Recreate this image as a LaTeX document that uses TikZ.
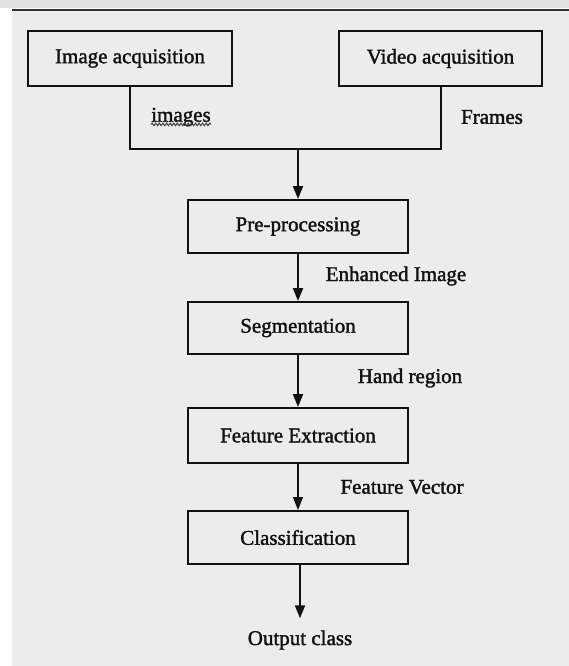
\documentclass[tikz,border=0pt]{standalone}
\usepackage{fontspec}
\setmainfont[FakeBold=1.6]{Liberation Serif}
\usetikzlibrary{arrows.meta,decorations.pathmorphing}
\definecolor{bgc}{HTML}{ECECEC}
\definecolor{topc}{HTML}{E2E2E2}
\definecolor{inkc}{HTML}{111111}
\begin{document}
\begin{tikzpicture}[x=1pt,y=-1pt,
  box/.style={draw=inkc,line width=2pt,minimum width=#1,inner sep=0pt,font=\fontsize{21}{24}\selectfont,text=inkc},
  box/.default=220pt,
  lbl/.style={inner sep=0pt,font=\fontsize{21}{24}\selectfont,text=inkc},
  arr/.style={draw=inkc,line width=2pt,-{Triangle[width=10pt,length=13pt]}},
  thinarr/.style={draw=inkc,line width=1.2pt,-{Triangle[width=10pt,length=13pt]}},
  link/.style={draw=inkc,line width=2pt}]
\useasboundingbox (0,0) rectangle (569,666);
\fill[white] (0,0) rectangle (569,666);
\fill[topc] (0,0) rectangle (569,8);
\fill[bgc] (12,10) rectangle (569,666);
\draw[draw=black!80,line width=1.2pt] (12,10) -- (569,10);
% boxes
\node[box=204pt,minimum height=55pt] (img) at (130,58.5) {Image acquisition};
\node[box=203pt,minimum height=55pt] (vid) at (440.5,58.5) {Video acquisition};
\node[box,minimum height=53pt] (pre) at (298,226.5) {Pre-processing};
\node[box,minimum height=52pt] (seg) at (298,328) {Segmentation};
\node[box,minimum height=55pt] (fe) at (298,435.5) {Feature Extraction};
\node[box,minimum height=53pt] (cls) at (298,537.5) {Classification};
\node[lbl] (out) at (300,640) {Output class};
% labels
\node[lbl] (limg) at (181,117) {images};
\node[lbl] (lfr) at (492,117) {Frames};
\node[lbl] (lenh) at (396,276) {Enhanced Image};
\node[lbl] (lhand) at (410,378) {Hand region};
\node[lbl] (lfv) at (402,487) {Feature Vector};
\draw[draw=black!75,line width=1pt,decorate,decoration={snake,amplitude=1.3pt,segment length=3.6pt}]
  ([yshift=2pt]limg.south west) -- ([yshift=2pt]limg.south east);
% connectors
\coordinate (j) at (298,149);
\draw[link] (img.south) |- (j) -| (vid.south);
\draw[arr] (j) -- (pre.north);
\draw[arr] (pre.south) -- (seg.north);
\draw[arr] (seg.south) -- (fe.north);
\draw[thinarr] (fe.south) -- (cls.north);
\draw[arr] (cls.south -| out) -- ([yshift=12pt]out.north);
\end{tikzpicture}
\end{document}
